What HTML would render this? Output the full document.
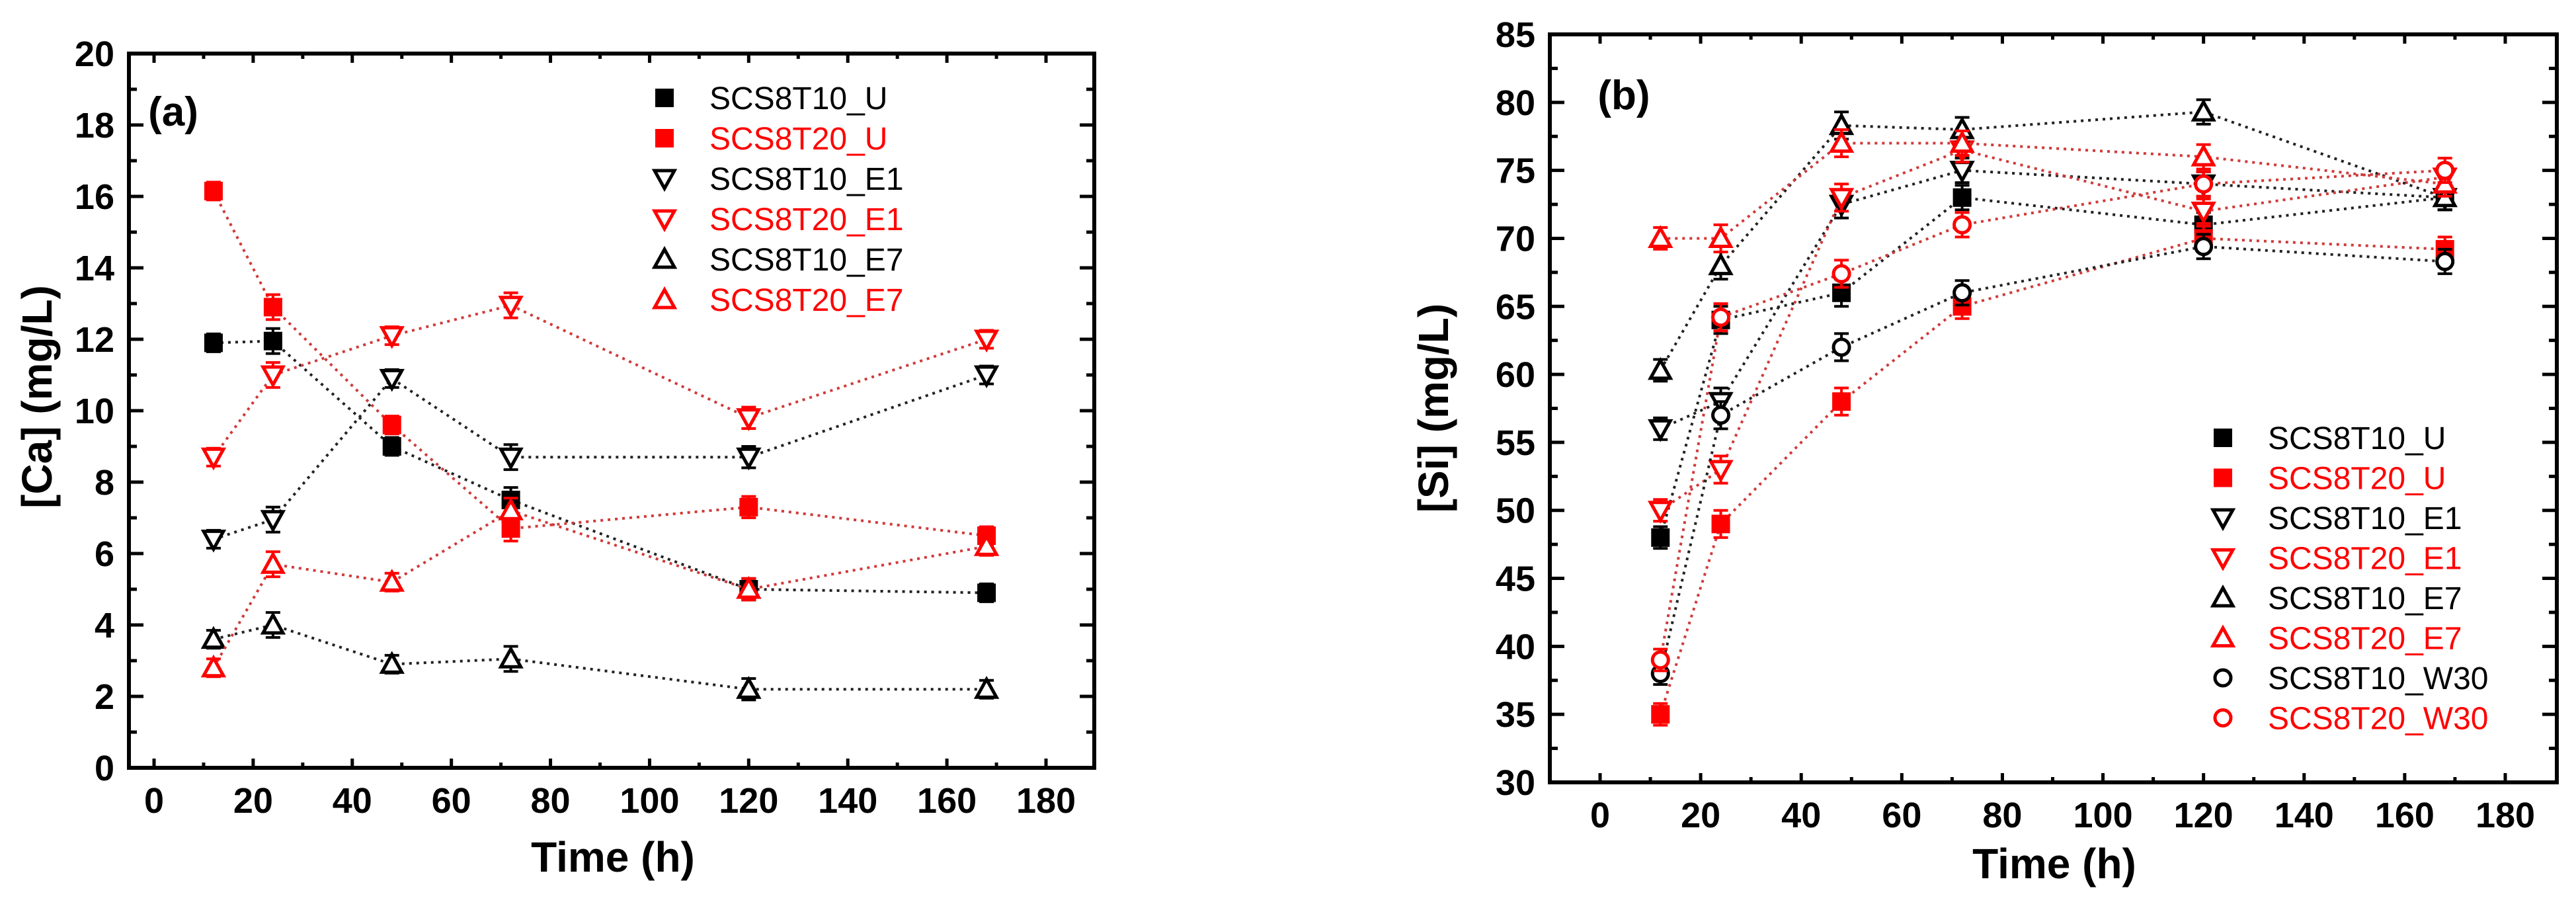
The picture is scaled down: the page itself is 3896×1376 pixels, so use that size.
<!DOCTYPE html>
<html><head><meta charset="utf-8"><style>
html,body{margin:0;padding:0;background:#fff;}
svg{display:block;}
text{font-family:"Liberation Sans",sans-serif;}
</style></head><body>
<svg id="chart" width="3896" height="1376" viewBox="0 0 3896 1376" xmlns="http://www.w3.org/2000/svg"></svg>
<script>
const times = [12, 24, 48, 72, 120, 168];
const xTicks = [0, 20, 40, 60, 80, 100, 120, 140, 160, 180];
const caTicks = [0, 2, 4, 6, 8, 10, 12, 14, 16, 18, 20];
const siTicks = [30, 35, 40, 45, 50, 55, 60, 65, 70, 75, 80, 85];

const ca10U  = [11.9, 11.95, 9.0, 7.5, 5.0, 4.9];
const ca20U  = [16.15, 12.9, 9.6, 6.7, 7.3, 6.5];
const ca10E1 = [6.4, 6.95, 10.9, 8.7, 8.7, 11.0];
const ca20E1 = [8.7, 11.0, 12.1, 12.95, 9.8, 12.0];
const ca10E7 = [3.6, 4.0, 2.9, 3.05, 2.2, 2.2];
const ca20E7 = [2.8, 5.7, 5.2, 7.2, 5.0, 6.2];
const caErr  = [0.25, 0.35, 0.25, 0.35, 0.3, 0.25];

const si10U   = [48, 64, 66, 73, 71, 73];
const si20U   = [35, 49, 58, 65, 70, 69.2];
const si10E1  = [56, 58, 72.5, 75, 74, 73];
const si20E1  = [50, 53, 73, 76.5, 72, 74.5];
const si10E7  = [60.3, 68, 78.3, 78, 79.3, 73];
const si20E7  = [70, 70, 77, 77, 76, 74];
const si10W30 = [38, 57, 62, 66, 69.4, 68.3];
const si20W30 = [39, 64.2, 67.4, 71, 74, 75];
const siErr   = [0.8, 1.0, 1.0, 0.9, 0.9, 0.9];

const NS = "http://www.w3.org/2000/svg";
const svg = document.getElementById('chart');
function mk(tag, attrs, parent) {
  const e = document.createElementNS(NS, tag);
  for (const k in attrs) e.setAttribute(k, attrs[k]);
  (parent || svg).appendChild(e);
  return e;
}
const RED = "#ff0000";

function marker(g, shape, cx, cy, color) {
  let m;
  if (shape === 'sq') {
    m = mk('rect', {x: cx - 14, y: cy - 14, width: 28, height: 28, fill: color}, g);
  } else if (shape === 'down') {
    m = mk('polygon', {points: `${cx-15},${cy-12} ${cx+15},${cy-12} ${cx},${cy+15}`, fill: '#fff', stroke: color, 'stroke-width': 5}, g);
  } else if (shape === 'up') {
    m = mk('polygon', {points: `${cx-15},${cy+12} ${cx+15},${cy+12} ${cx},${cy-15}`, fill: '#fff', stroke: color, 'stroke-width': 5}, g);
  } else {
    m = mk('circle', {cx: cx, cy: cy, r: 12, fill: '#fff', stroke: color, 'stroke-width': 5}, g);
  }
  return m;
}

function panel(cfg) {
  const g = mk('g', {});
  
  
  const X = v => cfg.x0 + (v - 0) * (cfg.x180 - cfg.x0) / 180;
  const Y = v => cfg.yB + (v - cfg.ymin) * (cfg.yT - cfg.yB) / (cfg.ymax - cfg.ymin);
  const ax = mk('g', {stroke: '#000', 'stroke-width': 5}, g);
  
  
  for (let v = -10; v <= 190; v += 10) {
    const px = X(v);
    if (px <= cfg.L + 3 || px >= cfg.R - 3) continue;
    const len = (v % 20 === 0) ? 14 : 8;
    mk('line', {x1: px, y1: cfg.yB, x2: px, y2: cfg.yB - len}, ax);
    mk('line', {x1: px, y1: cfg.yT, x2: px, y2: cfg.yT + len}, ax);
  }
  const half = cfg.ystep / 2;
  for (let v = cfg.ymin + half; v < cfg.ymax; v += half) {
    const py = Y(v);
    const major = Math.abs(((v - cfg.ymin) / cfg.ystep) - Math.round((v - cfg.ymin) / cfg.ystep)) < 1e-6;
    const len = major ? 22 : 12;
    mk('line', {x1: cfg.L, y1: py, x2: cfg.L + len, y2: py}, ax);
    mk('line', {x1: cfg.R, y1: py, x2: cfg.R - len, y2: py}, ax);
  }
  mk('rect', {x: cfg.L, y: cfg.yT, width: cfg.R - cfg.L, height: cfg.yB - cfg.yT, fill: 'none', stroke: '#000', 'stroke-width': 6}, g);
  xTicks.forEach(v => {
    const t = mk('text', {x: X(v), y: cfg.yB + 68, 'font-size': 54, 'font-weight': 'bold', 'text-anchor': 'middle', fill: '#000'}, g);
    t.textContent = v;
    
    
  });
  cfg.yTicks.forEach(v => {
    const t = mk('text', {x: cfg.L - 22, y: Y(v) + 19, 'font-size': 54, 'font-weight': 'bold', 'text-anchor': 'end', fill: '#000'}, g);
    t.textContent = v;
    
    
  });
  const xt = mk('text', {x: cfg.xtX, y: cfg.xtY, 'font-size': 64, 'font-weight': 'bold', 'text-anchor': 'middle', fill: '#000'}, g);
  xt.textContent = 'Time (h)';
  
  
  const yt = mk('text', {x: 0, y: 0, transform: `translate(${cfg.ytX},${cfg.ytY}) rotate(-90)`, 'font-size': 64, 'font-weight': 'bold', 'text-anchor': 'middle', fill: '#000'}, g);
  yt.textContent = cfg.ytitle;
  
  
  const pl = mk('text', {x: cfg.plX, y: cfg.plY, 'font-size': 62, 'font-weight': 'bold', 'text-anchor': 'middle', fill: '#000'}, g);
  pl.textContent = cfg.label;
  
  
  cfg.series.forEach(s => {
    const sg = mk('g', {}, g);
    
    
    const lineColor = s.color === RED ? '#d03a3a' : '#222';
    const pts = times.map((t, i) => X(t) + ',' + Y(s.data[i])).join(' ');
    const pline = mk('polyline', {points: pts, fill: 'none', stroke: lineColor, 'stroke-width': 4, 'stroke-dasharray': '4 7'}, sg);
    
    
    times.forEach((t, i) => {
      const cx = X(t), cy = Y(s.data[i]);
      const e = Math.abs(Y(0 + cfg.ymin) - Y(cfg.err[i] + cfg.ymin));
      const eb = mk('g', {stroke: s.color, 'stroke-width': 4}, sg);
      
      
      mk('line', {x1: cx, y1: cy - e, x2: cx, y2: cy + e}, eb);
      mk('line', {x1: cx - 11, y1: cy - e, x2: cx + 11, y2: cy - e}, eb);
      mk('line', {x1: cx - 11, y1: cy + e, x2: cx + 11, y2: cy + e}, eb);
      const m = marker(sg, s.shape, cx, cy, s.color);
      
      
    });
  });
  const lg = mk('g', {}, g);
  
  
  cfg.series.forEach((s, i) => {
    const y = cfg.lgY + i * cfg.lgStep;
    const m = marker(lg, s.shape, cfg.lgX, y, s.color);
    
    
    const t = mk('text', {x: cfg.lgX + 68, y: y + 17, 'font-size': 48, fill: s.color}, lg);
    t.textContent = s.name;
    
    
  });
}

panel({
  name: 'ca-panel', L: 195, R: 1655, yT: 81, yB: 1161, x0: 233, x180: 1582,
  ymin: 0, ymax: 20, ystep: 2, yTicks: caTicks, err: caErr,
  ytitle: '[Ca] (mg/L)', ytX: 78, ytY: 600, xtX: 927, xtY: 1318,
  label: '(a)', plX: 262, plY: 190,
  lgX: 1005, lgY: 148, lgStep: 61,
  series: [
    {name: 'SCS8T10_U', data: ca10U, shape: 'sq', color: '#000'},
    {name: 'SCS8T20_U', data: ca20U, shape: 'sq', color: RED},
    {name: 'SCS8T10_E1', data: ca10E1, shape: 'down', color: '#000'},
    {name: 'SCS8T20_E1', data: ca20E1, shape: 'down', color: RED},
    {name: 'SCS8T10_E7', data: ca10E7, shape: 'up', color: '#000'},
    {name: 'SCS8T20_E7', data: ca20E7, shape: 'up', color: RED}
  ]
});
panel({
  name: 'si-panel', L: 2344, R: 3867, yT: 52, yB: 1183, x0: 2420, x180: 3789,
  ymin: 30, ymax: 85, ystep: 5, yTicks: siTicks, err: siErr,
  ytitle: '[Si] (mg/L)', ytX: 2190, ytY: 617, xtX: 3107, xtY: 1328,
  label: '(b)', plX: 2456, plY: 165,
  lgX: 3362, lgY: 662, lgStep: 60.5,
  series: [
    {name: 'SCS8T10_U', data: si10U, shape: 'sq', color: '#000'},
    {name: 'SCS8T20_U', data: si20U, shape: 'sq', color: RED},
    {name: 'SCS8T10_E1', data: si10E1, shape: 'down', color: '#000'},
    {name: 'SCS8T20_E1', data: si20E1, shape: 'down', color: RED},
    {name: 'SCS8T10_E7', data: si10E7, shape: 'up', color: '#000'},
    {name: 'SCS8T20_E7', data: si20E7, shape: 'up', color: RED},
    {name: 'SCS8T10_W30', data: si10W30, shape: 'circ', color: '#000'},
    {name: 'SCS8T20_W30', data: si20W30, shape: 'circ', color: RED}
  ]
});
</script>
</body></html>
